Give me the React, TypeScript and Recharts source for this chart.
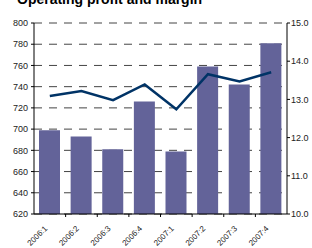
import React from 'react';
import { ComposedChart, Bar, Line, XAxis, YAxis, CartesianGrid } from 'recharts';

const categories = ['2006:1', '2006:2', '2006:3', '2006:4', '2007:1', '2007:2', '2007:3', '2007:4'];
const profit = [699, 693, 681, 726, 679, 759, 742, 781];
const margin = [13.09, 13.22, 12.98, 13.39, 12.74, 13.66, 13.47, 13.71];
const leftTicks = [620, 640, 660, 680, 700, 720, 740, 760, 780, 800];
const rightTicks = [10, 11, 12, 13, 14, 15];

const data = categories.map((c, i) => ({ name: c, profit: profit[i], margin: margin[i] }));

const PLOT_LEFT = 34;
const PLOT_RIGHT = 287;
const BAND = (PLOT_RIGHT - PLOT_LEFT) / categories.length;

const XTick = (props: any) => {
  const { x, y, payload } = props;
  const ax = x - 2;
  const ay = y + 7;
  const axisY = y - 8;
  const bx = x + BAND / 2;
  return (
    <g>
      {payload.index < categories.length - 1 && (
        <line x1={bx} y1={axisY} x2={bx} y2={axisY + 3} stroke="#000" strokeWidth={1} />
      )}
      <text
        x={ax}
        y={ay}
        transform={`rotate(-45 ${ax} ${ay})`}
        textAnchor="end"
        fontSize={8}
        fontFamily="Liberation Sans, Arial, sans-serif"
        fill="#222"
      >
        {payload.value}
      </text>
    </g>
  );
};

export default function App() {
  return (
    <div style={{ position: 'absolute', left: 0, top: 0, width: 312, height: 248, background: '#fff', overflow: 'hidden' }}>
      <div
        style={{
          position: 'absolute',
          left: 17,
          top: -9,
          fontFamily: 'Liberation Sans, Arial, sans-serif',
          fontWeight: 'bold',
          fontSize: 14,
          lineHeight: '16px',
          color: '#000',
          whiteSpace: 'nowrap',
        }}
      >
        Operating profit and margin
      </div>
      <ComposedChart
        width={312}
        height={248}
        data={data}
        margin={{ top: 23, right: 0, left: 0, bottom: 0 }}
        barCategoryGap="33%"
      >
        <CartesianGrid vertical={false} stroke="#444" strokeDasharray="8 7" yAxisId="left" />
        <XAxis
          dataKey="name"
          height={34}
          tick={<XTick />}
          tickLine={false}
          tickSize={6}
          tickMargin={2}
          axisLine={{ stroke: '#000' }}
          interval={0}
        />
        <YAxis
          yAxisId="left"
          orientation="left"
          width={34}
          domain={[620, 800]}
          ticks={leftTicks}
          tickSize={3}
          tickMargin={3}
          interval={0}
          tick={{ fontSize: 9, fill: '#222', fontFamily: 'Liberation Sans, Arial, sans-serif' }}
          axisLine={{ stroke: '#000' }}
          tickLine={{ stroke: '#000' }}
        />
        <YAxis
          yAxisId="right"
          orientation="right"
          width={25}
          domain={[10, 15]}
          ticks={rightTicks}
          tickSize={3}
          tickMargin={1}
          interval={0}
          tickFormatter={(v: number) => v.toFixed(1)}
          tick={{ fontSize: 9, fill: '#222', fontFamily: 'Liberation Sans, Arial, sans-serif', textAnchor: 'start' }}
          axisLine={{ stroke: '#000' }}
          tickLine={{ stroke: '#000' }}
        />
        <Bar yAxisId="left" dataKey="profit" fill="#636399" barSize={21} isAnimationActive={false} />
        <Line
          yAxisId="right"
          dataKey="margin"
          stroke="#003366"
          strokeWidth={2.5}
          dot={false}
          type="linear"
          isAnimationActive={false}
        />
      </ComposedChart>
    </div>
  );
}
